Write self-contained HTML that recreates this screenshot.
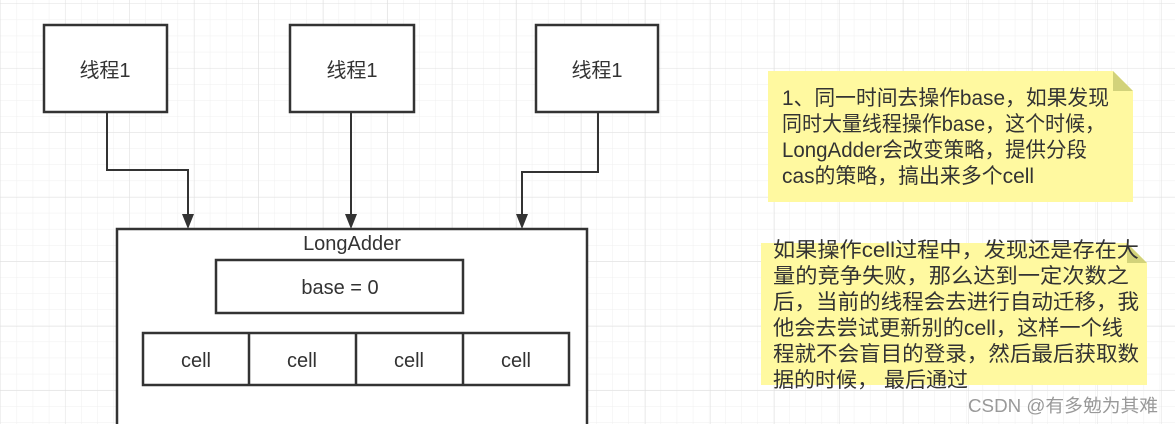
<!DOCTYPE html>
<html><head><meta charset="utf-8"><style>
html,body{margin:0;padding:0;background:#fff;}
svg{display:block;}
text{font-family:"Liberation Sans","Noto Sans CJK SC",sans-serif;}
</style></head><body>
<svg width="1175" height="424" viewBox="0 0 1175 424" xmlns="http://www.w3.org/2000/svg">
<defs>
<pattern id="minor" width="16.1" height="16.1" patternUnits="userSpaceOnUse" x="1" y="4">
<path d="M16.1 0V16.1M0 16.1H16.1" stroke="#efefef" stroke-width="1" fill="none"/>
</pattern>
<pattern id="major" width="64.5" height="64.5" patternUnits="userSpaceOnUse" x="1" y="4">
<path d="M64.5 0V64.5M0 64.5H64.5" stroke="#e0e0e0" stroke-width="1" fill="none"/>
</pattern>
</defs>
<rect width="1175" height="424" fill="url(#minor)"/>
<rect width="1175" height="424" fill="url(#major)"/>
<g stroke="#333" stroke-width="2.5" fill="#fff">
<rect x="44" y="25" width="123" height="87"/>
<rect x="290" y="25" width="124" height="87"/>
<rect x="536" y="25" width="122" height="87"/>
<rect x="117" y="229" width="470" height="200"/>
<rect x="216" y="260" width="247" height="53"/>
<rect x="143" y="333" width="426" height="52"/>
<path d="M249 333V385M356 333V385M463 333V385" fill="none"/>
</g>
<g stroke="#333" stroke-width="2" fill="none">
<path d="M107 112V170H188V218"/>
<path d="M351 112V218"/>
<path d="M598 112V172H522V218"/>
</g>
<g fill="#333">
<path d="M182 214L194 214L188 229Z"/>
<path d="M345 214L357 214L351 229Z"/>
<path d="M516 214L528 214L522 229Z"/>
</g>
<g font-size="20" fill="#333" text-anchor="middle">
<text x="105" y="77">线程1</text>
<text x="352" y="77">线程1</text>
<text x="597" y="77">线程1</text>
<text x="352" y="250">LongAdder</text>
<text x="340" y="294">base = 0</text>
<text x="196" y="367">cell</text>
<text x="302" y="367">cell</text>
<text x="409" y="367">cell</text>
<text x="516" y="367">cell</text>
</g>
<path d="M768 71H1113L1133 91V202H768Z" fill="#fff9a0"/>
<path d="M1113 71L1133 91H1113Z" fill="#d2d27a"/>
<path d="M761 243H1127L1147 263V385H761Z" fill="#fff9a0"/>
<path d="M1127 243L1147 263H1127Z" fill="#d2d27a"/>
<g font-size="21" fill="#333">
<text x="782" y="105" textLength="327" lengthAdjust="spacingAndGlyphs">1、同一时间去操作base，如果发现</text>
<text x="782" y="131" textLength="323" lengthAdjust="spacingAndGlyphs">同时大量线程操作base，这个时候，</text>
<text x="782" y="157" textLength="305" lengthAdjust="spacingAndGlyphs">LongAdder会改变策略，提供分段</text>
<text x="782" y="183" textLength="252" lengthAdjust="spacingAndGlyphs">cas的策略，搞出来多个cell</text>
<text x="773" y="257" textLength="366" lengthAdjust="spacingAndGlyphs">如果操作cell过程中，发现还是存在大</text>
<text x="773" y="283" textLength="356" lengthAdjust="spacingAndGlyphs">量的竞争失败，那么达到一定次数之</text>
<text x="773" y="309" textLength="366" lengthAdjust="spacingAndGlyphs">后，当前的线程会去进行自动迁移，我</text>
<text x="773" y="335" textLength="350" lengthAdjust="spacingAndGlyphs">他会去尝试更新别的cell，这样一个线</text>
<text x="773" y="361" textLength="366" lengthAdjust="spacingAndGlyphs">程就不会盲目的登录，然后最后获取数</text>
<text x="773" y="387" textLength="195" lengthAdjust="spacingAndGlyphs">据的时候，  最后通过</text>
</g>
<text x="968" y="412" font-size="18" fill="#999" textLength="190" lengthAdjust="spacingAndGlyphs">CSDN @有多勉为其难</text>
</svg>
</body></html>
